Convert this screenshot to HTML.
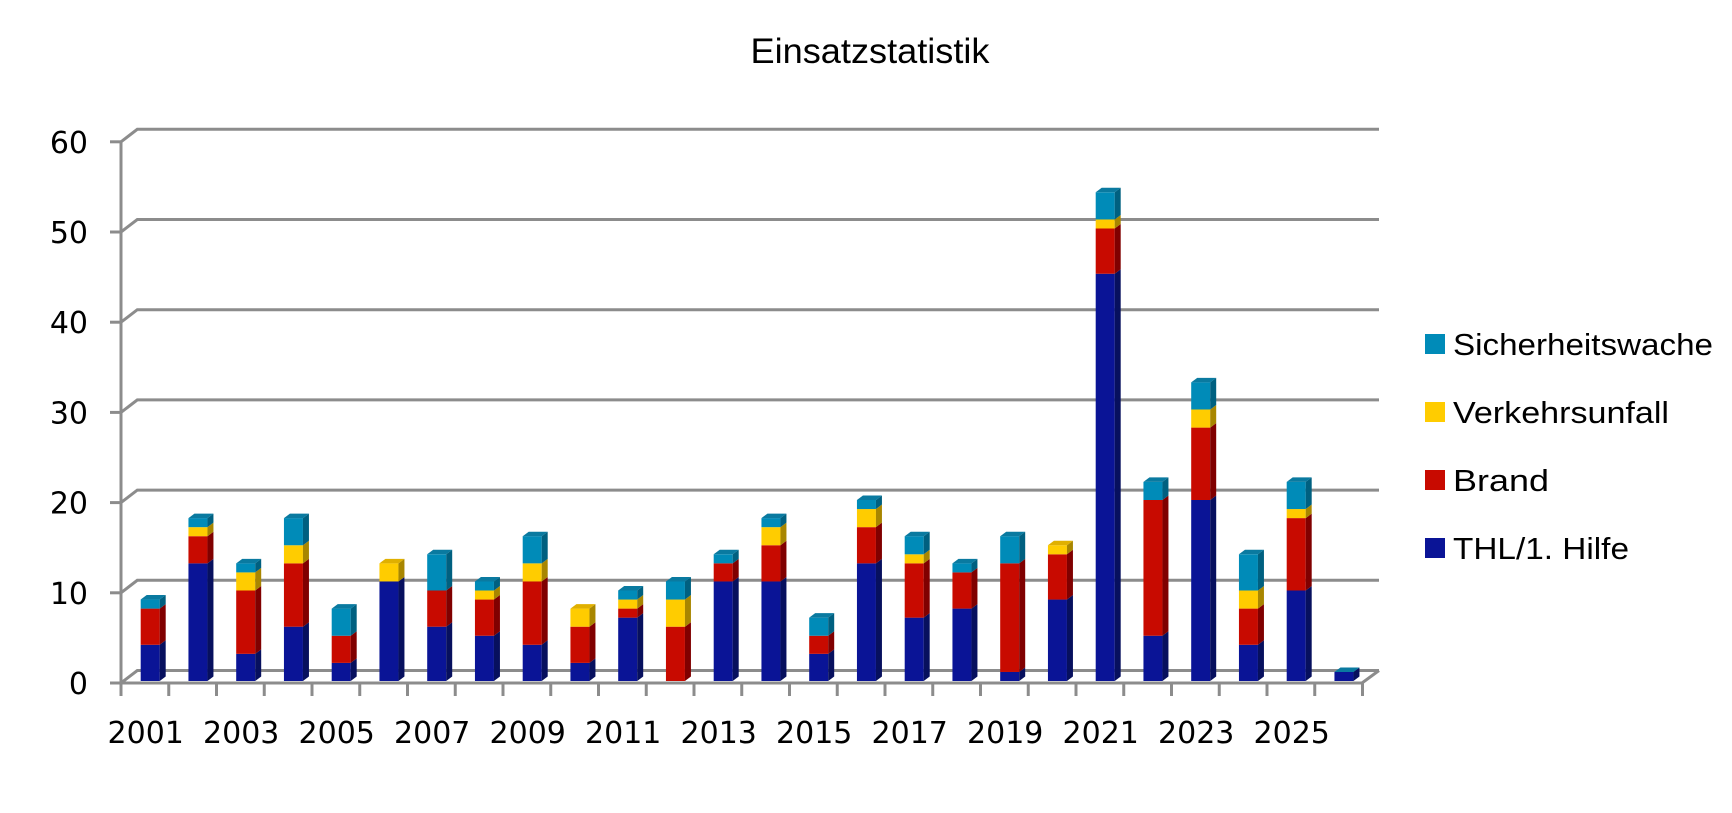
<!DOCTYPE html>
<html><head><meta charset="utf-8"><style>
html,body{margin:0;padding:0;background:#fff;}
svg{display:block;}
</style></head><body>
<svg id="c" width="1732" height="813" xmlns="http://www.w3.org/2000/svg">
<rect width="1732" height="813" fill="#fff"/>
<text x="870" y="63" text-anchor="middle" font-family="Liberation Sans, sans-serif" font-size="35" textLength="239" lengthAdjust="spacingAndGlyphs">Einsatzstatistik</text>
<g id="grid" stroke="#8c8c8c" stroke-width="3" fill="none"></g>
<g id="bars"></g>
<g id="lab" font-family="DejaVu Sans, sans-serif" font-size="30" fill="#000"></g>
<g font-family="Liberation Sans, sans-serif" font-size="31" fill="#000">
<rect x="1425" y="334" width="20" height="20" fill="#008bb8"/>
<text x="1453" y="355" textLength="260" lengthAdjust="spacingAndGlyphs">Sicherheitswache</text>
<rect x="1425" y="402" width="20" height="20" fill="#ffcc00"/>
<text x="1453" y="423" textLength="216" lengthAdjust="spacingAndGlyphs">Verkehrsunfall</text>
<rect x="1425" y="470" width="20" height="20" fill="#c80a00"/>
<text x="1453" y="491" textLength="96" lengthAdjust="spacingAndGlyphs">Brand</text>
<rect x="1425" y="538" width="20" height="20" fill="#0a1496"/>
<text x="1453" y="559" textLength="176" lengthAdjust="spacingAndGlyphs">THL/1. Hilfe</text>
</g>
</svg>
<script>
var NS="http://www.w3.org/2000/svg";
function el(p,t,a,txt){var e=document.createElementNS(NS,t);for(var k in a)e.setAttribute(k,a[k]);if(txt!=null)e.textContent=txt;p.appendChild(e);return e;}
var g=document.getElementById('grid'),b=document.getElementById('bars'),l=document.getElementById('lab');
var y0=683,u=9.02,dx=16.3,dy=12.5;
for(var v=0;v<=60;v+=10){var y=y0-v*u;
 el(g,'polyline',{points:"121,"+y+" "+(121+dx)+","+(y-dy)+" 1379,"+(y-dy)});
 el(g,'line',{x1:110,y1:y,x2:121,y2:y});
 el(l,'text',{x:88,y:y+11,'text-anchor':'end'},String(v));
}
el(g,'line',{x1:121,y1:y0-60*u,x2:121,y2:y0});
el(g,'polyline',{points:"121,"+y0+" 1362,"+y0+" 1379,"+(y0-dy)});
for(var k=0;k<=26;k++){var x=121+47.75*k;el(g,'line',{x1:x,y1:y0,x2:x,y2:696});}
var data=[[4,4,0,1],[13,3,1,1],[3,7,2,1],[6,7,2,3],[2,3,0,3],[11,0,2,0],[6,4,0,4],[5,4,1,1],[4,7,2,3],[2,4,2,0],[7,1,1,1],[0,6,3,2],[11,2,0,1],[11,4,2,1],[3,2,0,2],[13,4,2,1],[7,6,1,2],[8,4,0,1],[1,12,0,3],[9,5,1,0],[45,5,1,3],[5,15,0,2],[20,8,2,3],[4,4,2,4],[10,8,1,3],[1,0,0,0]];
var F=['#0a1496','#c80a00','#ffcc00','#008bb8'],S=['#07105e','#800000','#a88600','#006080'],T=['#0a7aa0','#0a7aa0','#0a7aa0','#0a7aa0'];
var base=681,bu=9.05,w=19,sd=6,td=4.5;
data.forEach(function(d,i){var x=140.7+47.75*i,y=base;
 for(var s=0;s<4;s++){if(d[s]==0)continue;var h=d[s]*bu;
  el(b,'rect',{x:x,y:y-h,width:w,height:h,fill:F[s]});
  el(b,'polygon',{points:(x+w)+","+y+" "+(x+w+sd)+","+(y-td)+" "+(x+w+sd)+","+(y-h-td)+" "+(x+w)+","+(y-h),fill:S[s]});
  y-=h;}
 var tc=(d[3]==0&&d[2]>0)?'#e0b000':(d[3]==0&&d[2]==0&&d[1]>0)?'#a00000':'#0a7aa0';
 el(b,'polygon',{points:x+","+y+" "+(x+sd)+","+(y-td)+" "+(x+w+sd)+","+(y-td)+" "+(x+w)+","+y,fill:tc});
 if(i%2==0) el(l,'text',{x:x+5,y:743,'text-anchor':'middle'},String(2001+i));
});
</script>
</body></html>
